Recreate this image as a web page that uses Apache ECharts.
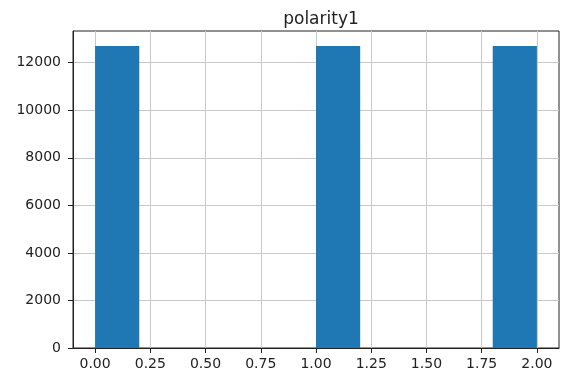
<!DOCTYPE html>
<html>
<head>
<meta charset="utf-8">
<script src="https://cdn.jsdelivr.net/npm/echarts@6/dist/echarts.min.js"></script>
<style>html,body{margin:0;padding:0;background:#fff}#c{width:561px;height:377px}</style>
</head>
<body>
<div id="c"></div>
<script>
var title = 'polarity1';
var binEdges = [0.0, 0.2, 0.4, 0.6, 0.8, 1.0, 1.2, 1.4, 1.6, 1.8, 2.0];
var counts = [12700, 0, 0, 0, 0, 12700, 0, 0, 0, 12700];
var xTicks = [0, 0.25, 0.5, 0.75, 1.0, 1.25, 1.5, 1.75, 2.0];
var yTicks = [0, 2000, 4000, 6000, 8000, 10000, 12000];

var bins = [];
for (var i = 0; i < counts.length; i++) {
  bins.push([binEdges[i], binEdges[i + 1], counts[i]]);
}
var span = binEdges[binEdges.length - 1] - binEdges[0];
var xMin = binEdges[0] - 0.05 * span;
var xMax = binEdges[binEdges.length - 1] + 0.05 * span;
var yMax = 1.05 * Math.max.apply(null, counts);

var font = 'DejaVu Sans';
var txt = '#222';
var chart = echarts.init(document.getElementById('c'), null, {renderer: 'canvas'});
chart.setOption({
  animation: false,
  backgroundColor: '#fff',
  title: {
    text: title, left: 316, top: 6, textAlign: 'center',
    textStyle: {fontFamily: font, fontSize: 17, fontWeight: 'normal', color: txt}
  },
  grid: {left: 73, right: 2, top: 31, bottom: 29, show: true, borderColor: '#222', borderWidth: 1, backgroundColor: 'transparent'},
  xAxis: {
    type: 'value', min: xMin, max: xMax,
    axisLine: {show: true, onZero: false, lineStyle: {color: '#222', width: 1}},
    axisTick: {show: true, length: 5, customValues: xTicks, lineStyle: {color: '#222'}},
    axisLabel: {customValues: xTicks, margin: 9, fontFamily: font, fontSize: 14, color: txt,
      formatter: function (v) { return v.toFixed(2); }},
    splitLine: {show: true, lineStyle: {color: '#c8c8c8', width: 1}}
  },
  yAxis: {
    type: 'value', min: 0, max: yMax,
    axisLine: {show: true, onZero: false, lineStyle: {color: '#222', width: 1}},
    axisTick: {show: true, length: 5, customValues: yTicks, lineStyle: {color: '#222'}},
    axisLabel: {customValues: yTicks, margin: 12, fontFamily: font, fontSize: 14, color: txt,
      formatter: function (v) { return String(v); }},
    splitLine: {show: true, lineStyle: {color: '#c8c8c8', width: 1}}
  },
  series: [{
    type: 'custom',
    data: bins,
    renderItem: function (params, api) {
      var p0 = api.coord([api.value(0), api.value(2)]);
      var p1 = api.coord([api.value(1), 0]);
      return {
        type: 'rect',
        shape: {x: p0[0], y: p0[1], width: p1[0] - p0[0], height: p1[1] - p0[1]},
        style: {fill: '#1f77b4'}
      };
    },
    encode: {x: [0, 1], y: 2},
    z: 3
  }]
});
</script>
</body>
</html>
